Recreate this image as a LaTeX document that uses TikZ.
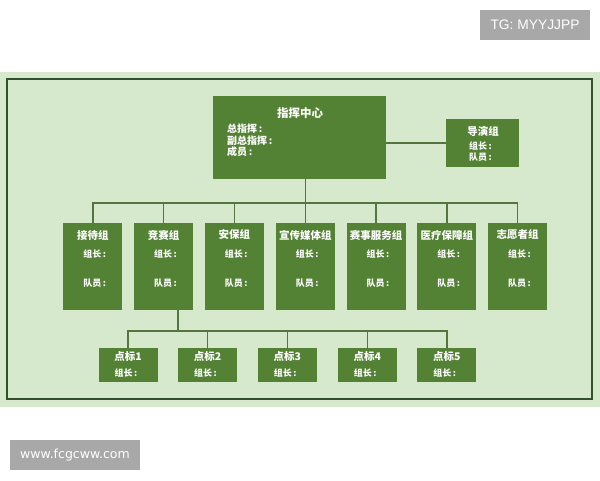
\documentclass[tikz,border=0pt]{standalone}
\usepackage{fontspec}
\setmainfont{Noto Sans CJK SC}
\newfontfamily\markfont{Liberation Sans}
\newfontfamily\urlfont{DejaVu Sans}

\definecolor{boxgreen}{HTML}{548235}
\definecolor{bggreen}{HTML}{D7E9CD}
\definecolor{framegreen}{HTML}{34502B}
\definecolor{linegreen}{HTML}{56743F}
\definecolor{markgray}{HTML}{A8A8A8}

\tikzset{
  grpbox/.style={fill=boxgreen, draw=none, inner sep=0pt},
  grptitle/.style={text=white, font=\bfseries\fontsize{10.5}{12}\selectfont, inner sep=0pt},
  grpitem/.style={text=white, font=\bfseries\fontsize{9}{10}\selectfont, inner sep=0pt},
  link/.style={draw=linegreen, line width=1.5pt},
  markbox/.style={fill=markgray, text=white, inner sep=0pt}
}

\begin{document}
\begin{tikzpicture}[x=1pt,y=-1pt]
        \useasboundingbox (0,0) rectangle (600,480);
        \fill[white] (0,0) rectangle (600,480);
        \fill[bggreen] (0,72) rectangle (600,407);
        \draw[framegreen, line width=2pt] (7,79) rectangle (592,399);

        % command centre
        \node [grpbox, minimum width=173pt, minimum height=83pt] (main) at (299.5,137.5) {};
        \node [grptitle, font=\bfseries\fontsize{11.5}{13}\selectfont] (maint) at (300,113) {指挥中心};
        \node [grpitem, font=\bfseries\fontsize{10}{11}\selectfont, anchor=west] (chief) at (227,129) {总指挥\,:};
        \node [grpitem, font=\bfseries\fontsize{10}{11}\selectfont, anchor=west] (vice) at (227,141) {副总指挥\,:};
        \node [grpitem, font=\bfseries\fontsize{10}{11}\selectfont, anchor=west] (staff) at (227,152) {成员\,:};

        \node [grpbox, minimum width=73pt, minimum height=48pt] (director) at (482.5,143) {};
        \node [grptitle] (directort) at (483,131) {导演组};
        \node [grpitem, anchor=west] (directorl) at (469,146) {组长\,:};
        \node [grpitem, anchor=west] (directorm) at (469,157) {队员\,:};
        \draw [link] (director.west) -- (director.west -| main.east);

        % groups
        \node [grpbox, minimum width=59pt, minimum height=87pt] (g1) at (92.8,266.5) {};
        \node [grpbox, minimum width=59pt, minimum height=87pt] (g2) at (163.5,266.5) {};
        \node [grpbox, minimum width=59pt, minimum height=87pt] (g3) at (234.3,266.5) {};
        \node [grpbox, minimum width=59pt, minimum height=87pt] (g4) at (305.3,266.5) {};
        \node [grpbox, minimum width=59pt, minimum height=87pt] (g5) at (376,266.5) {};
        \node [grpbox, minimum width=59pt, minimum height=87pt] (g6) at (446.8,266.5) {};
        \node [grpbox, minimum width=59pt, minimum height=87pt] (g7) at (517.5,266.5) {};

        \node [grptitle] (g1t) at (92.8,235) {接待组};
        \node [grptitle] (g2t) at (163.5,235) {竞赛组};
        \node [grptitle] (g3t) at (234.3,235) {安保组};
        \node [grptitle] (g4t) at (305.3,235) {宣传媒体组};
        \node [grptitle] (g5t) at (376,235) {赛事服务组};
        \node [grptitle] (g6t) at (446.8,235) {医疗保障组};
        \node [grptitle] (g7t) at (517.5,235) {志愿者组};

        \foreach \g/\x in {g1/92.8, g2/163.5, g3/234.3, g4/305.3, g5/376, g6/446.8, g7/517.5} {
          \node [grpitem] (\g l) at (\x+2,254) {组长\,:};
          \node [grpitem] (\g m) at (\x+2,283) {队员\,:};
        }

        \coordinate (bar) at (305,203);
        \draw [link] (g4.north) -- (g4.north |- main.south);
        \draw [link] (g1.north) -- (g1.north |- bar) -| (g7.north);
        \draw [link] (g2.north) -- (g2.north |- bar);
        \draw [link] (g3.north) -- (g3.north |- bar);
        \draw [link] (g5.north) -- (g5.north |- bar);
        \draw [link] (g6.north) -- (g6.north |- bar);

        % points under the race group
        \node [grpbox, minimum width=59pt, minimum height=34pt] (p1) at (128,365) {};
        \node [grpbox, minimum width=59pt, minimum height=34pt] (p2) at (207.5,365) {};
        \node [grpbox, minimum width=59pt, minimum height=34pt] (p3) at (287.3,365) {};
        \node [grpbox, minimum width=59pt, minimum height=34pt] (p4) at (367.3,365) {};
        \node [grpbox, minimum width=59pt, minimum height=34pt] (p5) at (446.8,365) {};

        \foreach \p/\x/\n in {p1/128/1, p2/207.5/2, p3/287.3/3, p4/367.3/4, p5/446.8/5} {
          \node [grptitle] (\p t) at (\x,357) {点标\n};
          \node [grpitem] (\p l) at (\x-2,373) {组长\,:};
        }

        \coordinate (pbar) at (178,331);
        \draw [link] (pbar) -- (pbar |- g2.south);
        \draw [link] (p1.north) -- (p1.north |- pbar) -| (p5.north);
        \draw [link] (p2.north) -- (p2.north |- pbar);
        \draw [link] (p3.north) -- (p3.north |- pbar);
        \draw [link] (p4.north) -- (p4.north |- pbar);

        % marks
        \node [markbox, minimum width=110pt, minimum height=30pt, font=\markfont\fontsize{13.8}{15}\selectfont] (tg) at (535,25) {TG: MYYJJPP};
        \node [markbox, minimum width=130pt, minimum height=30pt, font=\urlfont\fontsize{12.5}{14}\selectfont] (url) at (75,455) {www.fcgcww.com};
\end{tikzpicture}
\end{document}
